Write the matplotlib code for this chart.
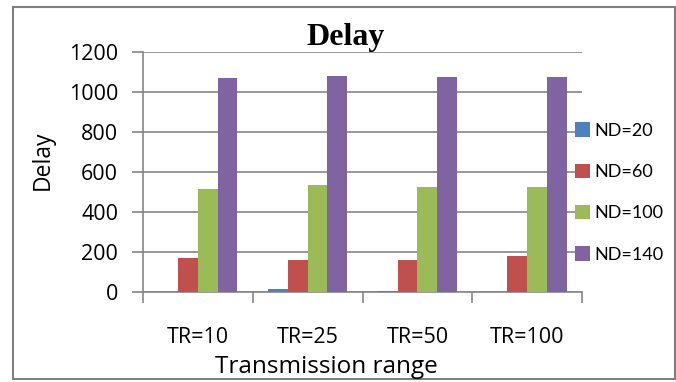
import matplotlib
matplotlib.use("Agg")
import matplotlib.pyplot as plt
from matplotlib.patches import Rectangle, Patch
import numpy as np

categories = ["TR=10", "TR=25", "TR=50", "TR=100"]
series_names = ["ND=20", "ND=60", "ND=100", "ND=140"]
nd20 = [2, 15, 5, 2]
nd60 = [170, 160, 160, 178]
nd100 = [517, 533, 527, 527]
nd140 = [1070, 1080, 1073, 1076]
yticks = [0, 200, 400, 600, 800, 1000, 1200]

colors = ["#4F81BD", "#C0504D", "#9BBB59", "#8064A2"]
grid_c = "#868686"

W, H = 676, 382
fig = plt.figure(figsize=(W / 100, H / 100), dpi=100)

def fx(px):
    return px / W

def fy(py):
    return 1 - py / H

left, right, top, bottom = 143, 582, 52, 292
ax = fig.add_axes([fx(left), fy(bottom), (right - left) / W, (bottom - top) / H])

x = np.arange(len(categories))
bw = 0.18
all_series = [nd20, nd60, nd100, nd140]
for i, (vals, c, name) in enumerate(zip(all_series, colors, series_names)):
    ax.bar(x + (i - 1.5) * bw, vals, width=bw, color=c, label=name, zorder=3)

ax.set_xlim(-0.5, len(categories) - 0.5)
ax.set_ylim(0, 1200)
ax.set_yticks(yticks)
ax.set_yticklabels([str(v) for v in yticks])
ax.yaxis.grid(True, color=grid_c, linewidth=1.2, zorder=0)
ax.set_axisbelow(True)

for s in ["top", "right"]:
    ax.spines[s].set_visible(False)
for s in ["left", "bottom"]:
    ax.spines[s].set_color(grid_c)
    ax.spines[s].set_linewidth(1.2)

font = "Open Sans"
ax.set_xticks(x)
ax.set_xticklabels(categories, fontsize=15.5, family=font)
ax.set_xticks(np.arange(-0.5, len(categories), 1.0), minor=True)
ax.tick_params(axis="x", which="major", length=0, pad=25)
ax.tick_params(axis="x", which="minor", length=8, color=grid_c, width=1.2, direction="out")
ax.tick_params(axis="y", length=8, color=grid_c, width=1.2, direction="out", pad=10)
for t in ax.get_yticklabels():
    t.set_fontsize(15.5)
    t.set_family(font)

fig.text(fx(346), fy(37), "Delay", ha="center", va="center", fontsize=23,
         fontweight="bold", family="Liberation Serif")
fig.text(fx(43), fy(160), "Delay", ha="center", va="center", rotation=90,
         fontsize=16.5, family=font)
fig.text(fx(326), fy(367), "Transmission range", ha="center", va="center",
         fontsize=17.5, family=font)

handles = [Patch(facecolor=c, edgecolor="none") for c in colors]
fig.legend(handles, series_names, loc="center left",
           bbox_to_anchor=(fx(575), fy(192.5)), frameon=False,
           prop={"family": "Lato", "size": 13}, handlelength=0.85, handleheight=0.85,
           handletextpad=0.2, labelspacing=1.38, borderpad=0, borderaxespad=0)

fig.patches.append(Rectangle((fx(13), fy(379)), fx(675) - fx(13), fy(7) - fy(379),
                             transform=fig.transFigure, fill=False,
                             edgecolor="#7f7f7f", linewidth=1.5))

fig.savefig("out.png", dpi=100)
